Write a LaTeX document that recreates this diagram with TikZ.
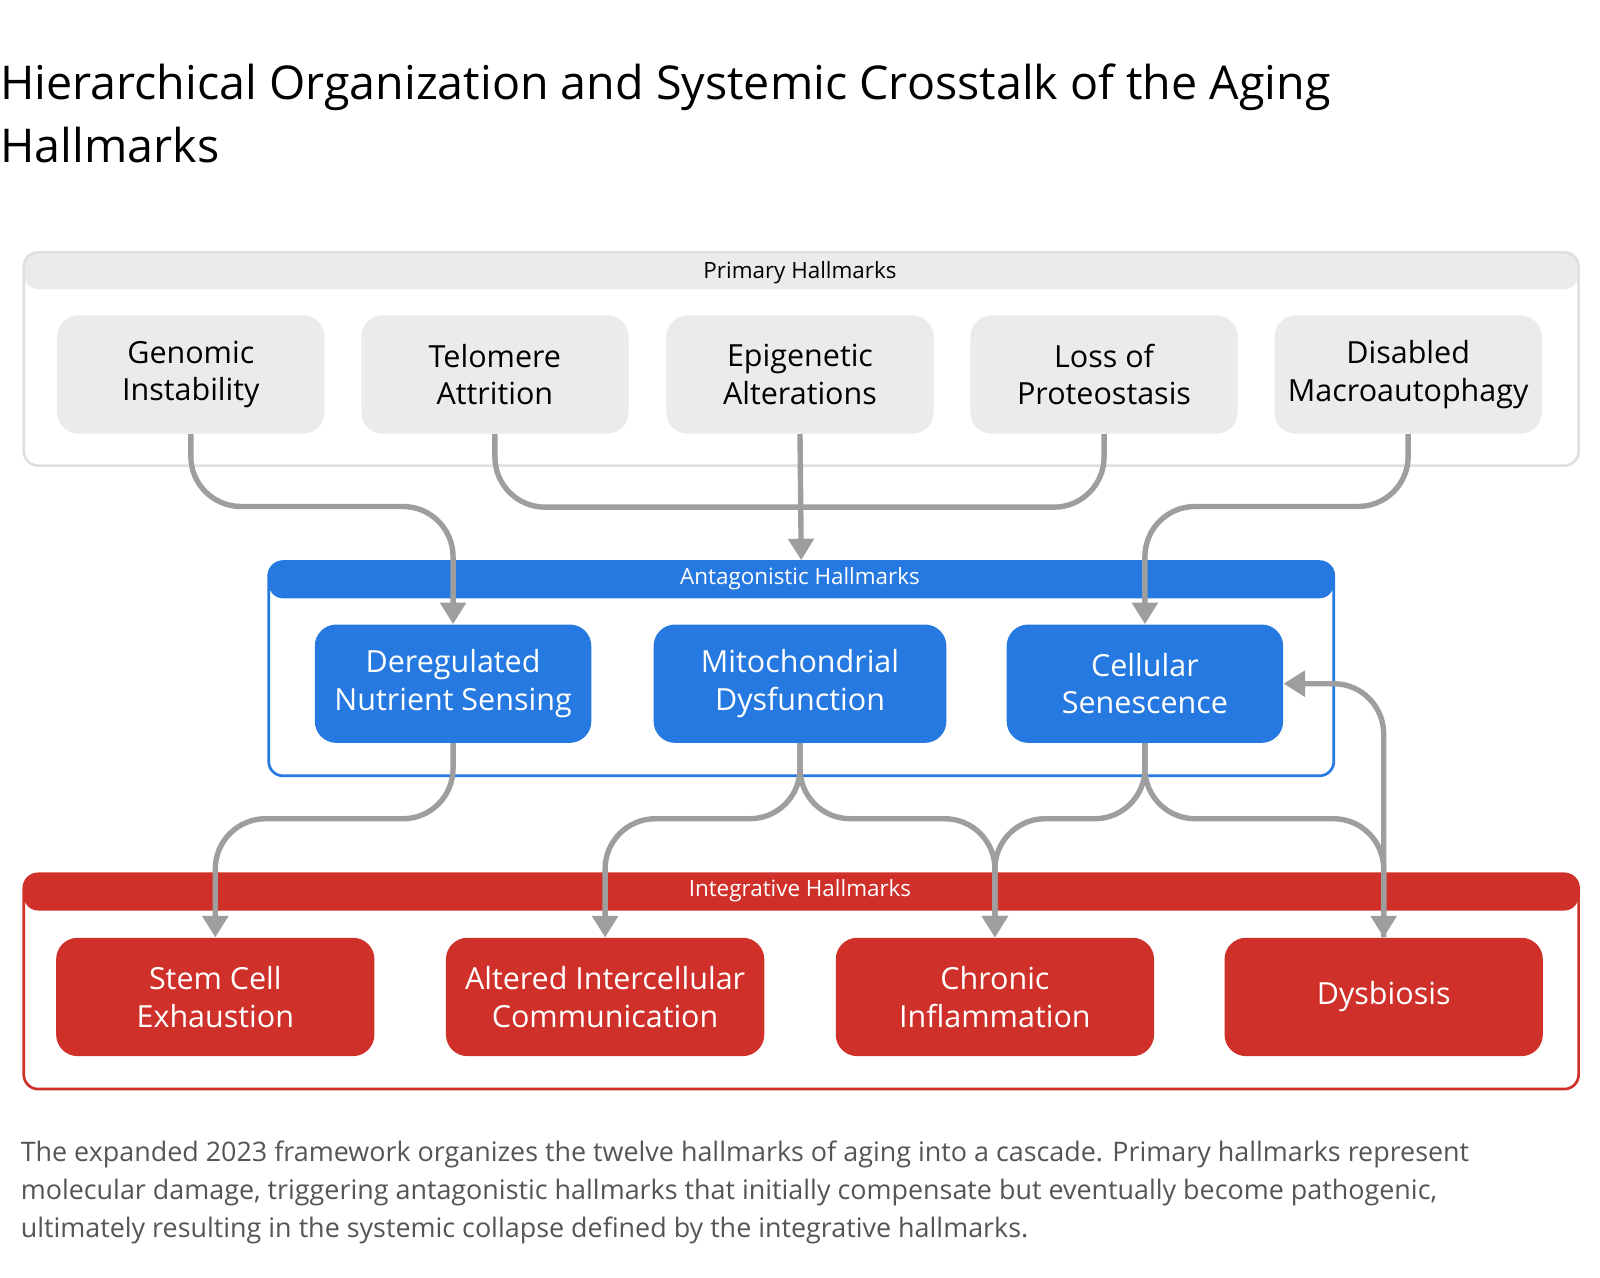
\documentclass[tikz,border=0pt]{standalone}
\usepackage{fontspec}
\setmainfont{Open Sans}
\usetikzlibrary{arrows.meta,calc}
\definecolor{primgray}{HTML}{EBEBEB}
\definecolor{primborder}{HTML}{E0E0E0}
\definecolor{antblue}{HTML}{2579E0}
\definecolor{intred}{HTML}{D0302A}
\definecolor{linkgray}{HTML}{9E9E9E}
\definecolor{capgray}{HTML}{555555}

\tikzset{
  panel/.style={draw=#1, line width=1.5pt, rounded corners=8pt, anchor=north west, inner sep=0pt},
  band/.style={path picture={\fill[#1] (path picture bounding box.north west) rectangle ([yshift=-0.72cm]path picture bounding box.north east);}},
  hallmark/.style={rounded corners=12pt, minimum height=2.32cm, align=center, font=\fontsize{17}{21}\selectfont},
  primary/.style={hallmark, fill=primgray, minimum width=5.24cm},
  antagonist/.style={hallmark, fill=antblue, text=white},
  integrative/.style={hallmark, fill=intred, text=white, minimum width=6.24cm},
  link/.style={draw=linkgray, line width=3pt, rounded corners=28pt},
  linkarrow/.style={link, -{Triangle[length=12pt,width=14pt]}},
  header/.style={font=\fontsize{12.5}{15}\selectfont}
}

\begin{document}
\begin{tikzpicture}[x=0.02cm, y=-0.02cm]
\useasboundingbox[fill=white] (0,0) rectangle (1568,1252);

% Title
\node[anchor=north west, align=left, inner sep=0pt, font=\fontsize{26}{35}\selectfont] (title) at (0,62)
  {Hierarchical Organization and Systemic Crosstalk of the Aging\\Hallmarks};

% Panels
\node[panel=primborder, band=primgray, minimum width=30.48cm, minimum height=4.18cm] (prim) at (22,246) {};
\node[header] at (784,267) {Primary Hallmarks};
\node[panel=antblue, band=antblue, minimum width=20.88cm, minimum height=4.2cm] (antag) at (262,549) {};
\node[header, text=white] at (784,567) {Antagonistic Hallmarks};
\node[panel=intred, band=intred, minimum width=30.48cm, minimum height=4.22cm] (integ) at (22,855) {};
\node[header, text=white] at (784,873) {Integrative Hallmarks};

% Primary hallmarks
\node[primary] (gen) at (187,367) {Genomic\\Instability};
\node[primary] (tel) at (485,367) {Telomere\\Attrition};
\node[primary] (epi) at (784,367) {Epigenetic\\Alterations};
\node[primary] (los) at (1082,367) {Loss of\\Proteostasis};
\node[primary] (dis) at (1380,367) {Disabled\\Macroautophagy};

% Antagonistic hallmarks
\node[antagonist, minimum width=5.42cm] (der) at (444,670) {Deregulated\\Nutrient Sensing};
\node[antagonist, minimum width=5.74cm] (mit) at (784,670) {Mitochondrial\\Dysfunction};
\node[antagonist, minimum width=5.42cm] (cel) at (1122,670) {Cellular\\Senescence};

% Integrative hallmarks
\node[integrative] (ste) at (211,977) {Stem Cell\\Exhaustion};
\node[integrative] (alt) at (593,977) {Altered Intercellular\\Communication};
\node[integrative] (chr) at (975,977) {Chronic\\Inflammation};
\node[integrative] (dys) at (1356,977) {Dysbiosis};

% Primary to antagonistic
\coordinate (merge) at (784,497);
\draw[linkarrow] (gen.south) -- ++(0,71) -| (der.north);
\draw[link] (tel.south) |- (merge);
\draw[link] (los.south) |- (merge);
\draw[linkarrow] (epi.south) -- (antag.north);
\draw[linkarrow] (dis.south) -- ++(0,71) -| (cel.north);

% Antagonistic to integrative
\draw[linkarrow] (der.south) -- ++(0,74) -| (ste.north);
\draw[linkarrow] (mit.south) -- ++(0,74) -| (alt.north);
\draw[linkarrow] (mit.south) -- ++(0,74) -| (chr.north);
\draw[linkarrow] (cel.south) -- ++(0,74) -| (chr.north);
\draw[linkarrow] (cel.south) -- ++(0,74) -| (dys.north);

% Feedback
\draw[linkarrow] (dys.north) |- (cel.east);

% Caption
\node[anchor=north west, align=left, inner sep=0pt, text=capgray, font=\fontsize{15}{21}\selectfont] (caption) at (20,1118)
  {The expanded 2023 framework organizes the twelve hallmarks of aging into a cascade. Primary hallmarks represent\\
   molecular damage, triggering antagonistic hallmarks that initially compensate but eventually become pathogenic,\\
   ultimately resulting in the systemic collapse defined by the integrative hallmarks.};
\end{tikzpicture}
\end{document}
